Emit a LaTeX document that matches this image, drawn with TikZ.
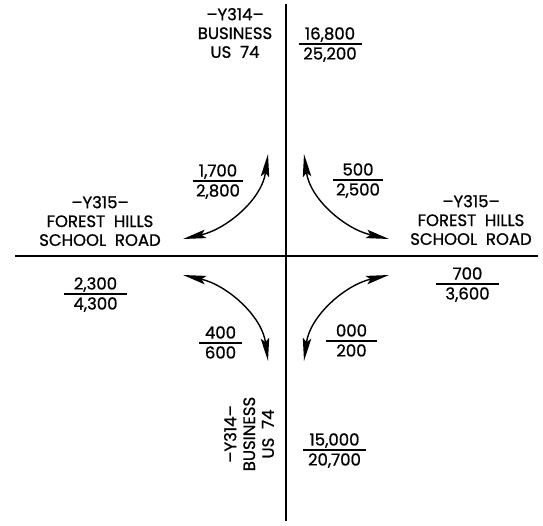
\documentclass[tikz,border=0pt]{standalone}
\usepackage{fontspec}
\setmainfont{Poppins}[FakeBold=0.9]
\usetikzlibrary{arrows.meta,calc}
\newcommand\trafrac[6]{% name, x, yline, num, den, halfwidth
  \coordinate (#1) at (#2,#3);
  \node[numtxt, anchor=base] (#1-n) at ($(#1)+(0,-4.5)$) {#4};
  \node[numtxt, anchor=base] (#1-d) at ($(#1)+(0,15.5)$) {#5};
  \draw[fracrule] ($(#1)+(-#6,0)$) -- ($(#1)+(#6,0)$);
}
\begin{document}
\begin{tikzpicture}[x=1pt,y=-1pt,
  lbl/.style={font=\fontsize{16.5}{18.8}\selectfont, align=center, inner sep=0pt},
  numtxt/.style={font=\fontsize{16.5}{16}\selectfont, inner sep=0pt},
  road/.style={line width=1.5pt},
  turn/.style={line width=1.4pt, {Stealth[length=23pt,width=8.5pt,inset=4pt]}-{Stealth[length=23pt,width=8.5pt,inset=4pt]}},
  fracrule/.style={line width=1.3pt}]
\useasboundingbox (0,0) rectangle (543,525);
% roads
\coordinate (vtop) at (286,4);
\coordinate (vbot) at (286,521);
\coordinate (hleft) at (15,256);
\coordinate (hright) at (538,256);
\draw[road] (vtop) -- (vbot);
\draw[road] (hleft) -- (hright);
% turning movements
\coordinate (tl1) at (183,239);
\coordinate (tl2) at (268,154);
\coordinate (tr1) at (304,154);
\coordinate (tr2) at (389,239);
\coordinate (bl1) at (183,275);
\coordinate (bl2) at (268,361);
\coordinate (br1) at (304,361);
\coordinate (br2) at (389,275);
\draw[turn] (tl1) .. controls +(44,-10) and +(-6,45) .. (tl2);
\draw[turn] (tr1) .. controls +(6,45) and +(-44,-10) .. (tr2);
\draw[turn] (bl1) .. controls +(44,10) and +(-6,-45) .. (bl2);
\draw[turn] (br1) .. controls +(6,-45) and +(-44,10) .. (br2);
% road labels
\node[lbl] (ntop) at (235,33) {–Y314–\\BUSINESS\\US~~74};
\node[lbl] (nleft) at (100,221) {–Y315–\\FOREST~~HILLS\\SCHOOL~~ROAD};
\node[lbl] (nright) at (471,220) {–Y315–\\FOREST~~HILLS\\SCHOOL~~ROAD};
\node[lbl, rotate=90] (nbot) at (249,434) {–Y314–\\BUSINESS\\US~~74};
% volumes
\trafrac{f1}{330}{44}{16,800}{25,200}{31.5}
\trafrac{f2}{218}{181}{1,700}{2,800}{25}
\trafrac{f3}{358}{180}{500}{2,500}{25}
\trafrac{f4}{95.5}{294}{2,300}{4,300}{31.5}
\trafrac{f5}{467.5}{284}{700}{3,600}{31.5}
\trafrac{f6}{220.5}{343}{400}{600}{21.5}
\trafrac{f7}{351.5}{341}{000}{200}{25.5}
\trafrac{f8}{334.5}{450}{15,000}{20,700}{31.5}
\end{tikzpicture}
\end{document}
